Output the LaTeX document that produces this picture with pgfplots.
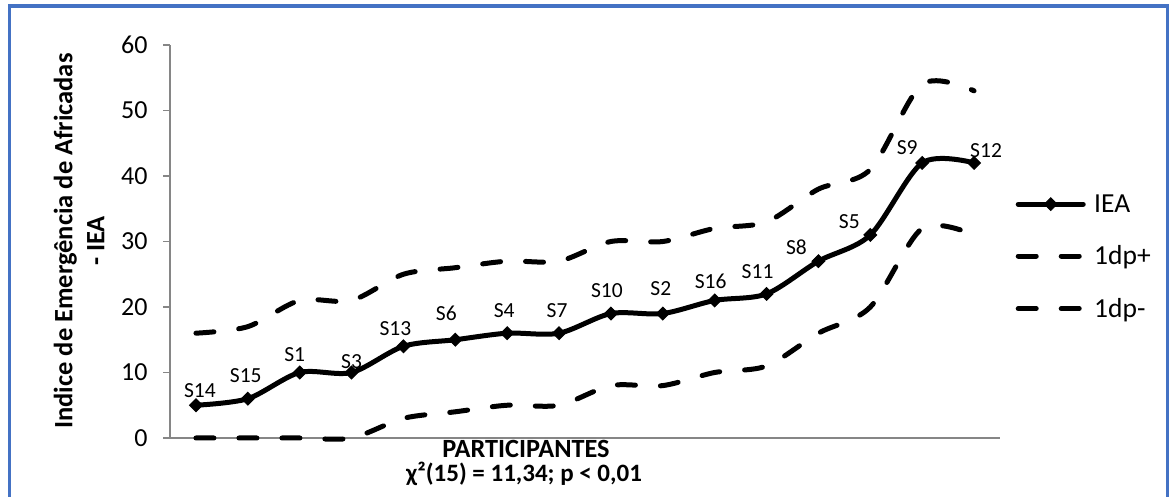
\documentclass[border=0pt]{standalone}
\usepackage{pgfplots}
\pgfplotsset{compat=1.18}
\usepackage{pgfplotstable}
\usepackage{fontspec}
\setmainfont{Carlito}
\definecolor{frameblue}{RGB}{68,114,196}
\definecolor{axgray}{RGB}{134,134,134}

\pgfplotstableread{
x y lab dx dy
0 5 S14 4 15
1 6 S15 -2 23
2 10 S1 -5 18
3 10 S3 0 11
4 14 S13 -8 18
5 15 S6 -9 26
6 16 S4 -3 23
7 16 S7 -2 23
8 19 S10 -4 23
9 19 S2 -2 25
10 21 S16 -4 19
11 22 S11 -9 22
12 27 S8 -22 14
13 31 S5 -21 13
14 42 S9 -15 15
15 42 S12 12 12
}\iea

\pgfplotstableread{
x y
0 16
1 17
2 21
3 21
4 25
5 26
6 27
7 27
8 30
9 30
10 32
11 33
12 38
13 41
14 54
15 53
}\dpplus

\pgfplotstableread{
x y
0 0
1 0
2 0
3 0
4 3
5 4
6 5
7 5
8 8
9 8
10 10
11 11
12 16
13 20
14 32
15 31
}\dpminus

\begin{document}
\begin{tikzpicture}[x=1pt,y=1pt]
\useasboundingbox (0,0) rectangle (1171,497);
\draw[frameblue, line width=3.5pt] (9.5,-20) rectangle (1167.5,491);
\begin{axis}[
  at={(170pt,59pt)}, anchor=south west,
  scale only axis, width=830pt, height=393pt,
  xmin=-0.5, xmax=15.5, ymin=0, ymax=60,
  axis lines*=left,
  axis line style={axgray, line width=1.2pt},
  xtick=\empty,
  ytick={0,10,20,30,40,50,60},
  tick style={axgray, line width=1.2pt},
  tick align=outside,
  major tick length=7pt,
  /pgf/number format/assume math mode=true,
  yticklabel style={font=\fontsize{26}{30}\selectfont, text=black, xshift=-12pt},
  clip=false,
  legend style={draw=none, fill=none, at={(rel axis cs:1.0157,0.625)}, anchor=north west,
    font=\fontsize{27.5}{32}\selectfont, row sep=28pt, inner sep=0pt},
  legend cell align=left,
  legend image code/.code={\path (0pt,0pt) (74pt,0pt);\draw[mark repeat=2, mark phase=2, #1] plot coordinates {(2.5pt,0pt) (35pt,0pt) (67.5pt,0pt)};},
]
\addplot[black, line width=5pt, line cap=round, smooth, mark=square*, mark size=4.5pt,
  mark options={rotate=45, solid, line width=1pt},
  visualization depends on={\thisrow{dx} \as \ldx},
  visualization depends on={\thisrow{dy} \as \ldy},
  nodes near coords, point meta=explicit symbolic,
  every node near coord/.append style={font=\fontsize{21.5}{25}\selectfont, text=black,
    anchor=center, inner sep=0pt, xshift=\ldx pt, yshift=\ldy pt}]
  table[x=x, y=y, meta=lab]{\iea};
\addlegendentry{IEA}
\addplot[black, line width=5pt, line cap=round, smooth, dash pattern=on 18pt off 25pt]
  table[x=x, y=y]{\dpplus};
\addlegendentry{1dp+}
\addplot[black, line width=5pt, line cap=round, smooth, dash pattern=on 18pt off 25pt]
  table[x=x, y=y]{\dpminus};
\addlegendentry{1dp-}
\end{axis}
\node[rotate=90, align=center, font=\bfseries\fontsize{26.5}{32}\selectfont] at (79,256)
  {Indice de Emergência de Africadas\\- IEA};
\node[inner sep=0pt, font=\bfseries\fontsize{26.3}{30}\selectfont] at (526,48) {PARTICIPANTES};
\node[inner sep=0pt, font=\bfseries\fontsize{25}{30}\selectfont] at (524,23) {χ²(15) = 11,34; p < 0,01};
\end{tikzpicture}
\end{document}
